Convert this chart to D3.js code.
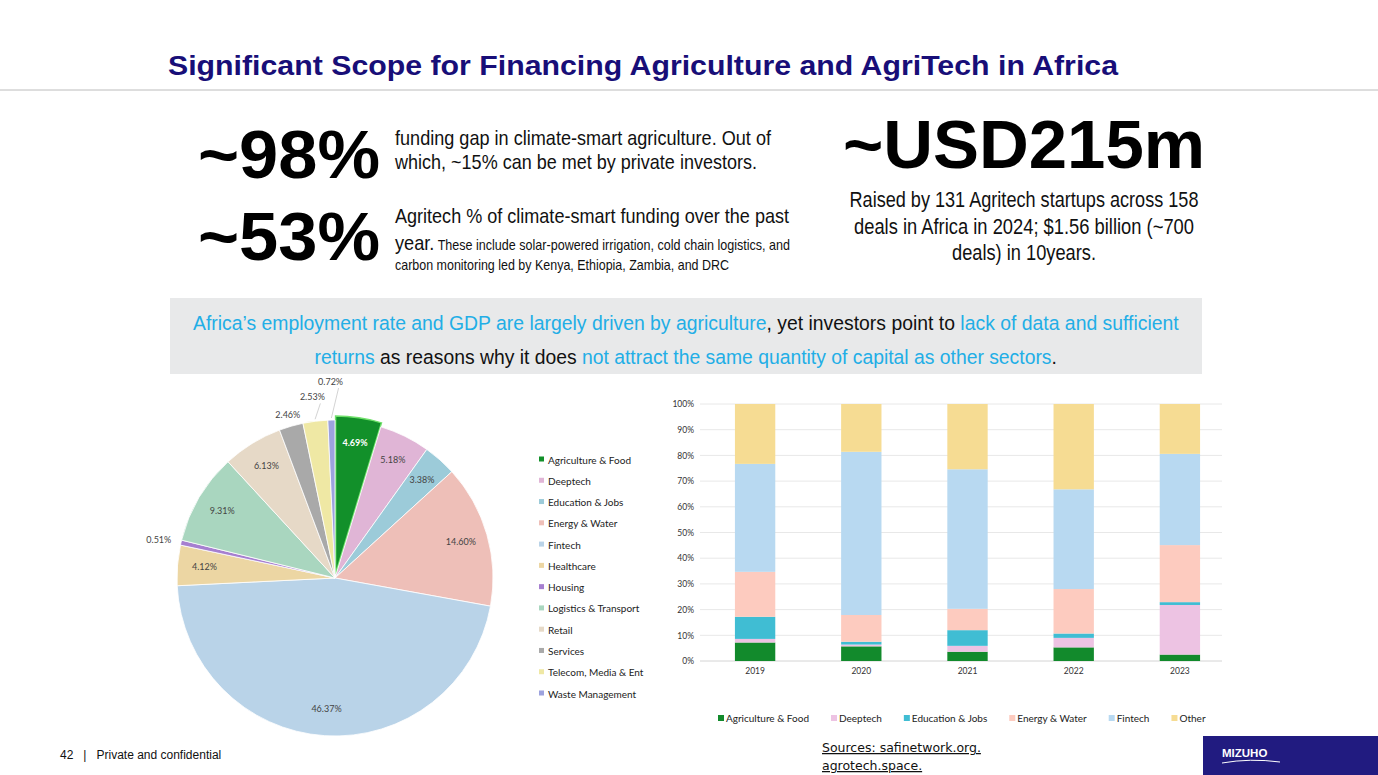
<!DOCTYPE html>
<html>
<head>
<meta charset="utf-8">
<script src="https://cdn.jsdelivr.net/npm/d3@7"></script>
<style>
  body { margin: 0; background: #fff; }
  svg { display: block; }
  .narrow { font-family: "Liberation Sans Narrow", "Liberation Sans", Arial, sans-serif; }
  .arial { font-family: "Liberation Sans", Arial, sans-serif; }
  .chart { font-family: Lato, "Open Sans", sans-serif; }
</style>
</head>
<body>
<script>
// pie: share of funding by sector
var pieCategories = ["Agriculture & Food", "Deeptech", "Education & Jobs", "Energy & Water", "Fintech",
    "Healthcare", "Housing", "Logistics & Transport", "Retail", "Services", "Telecom, Media & Ent", "Waste Management"];
var pieValues = [4.69, 5.18, 3.38, 14.60, 46.37, 4.12, 0.51, 9.31, 6.13, 2.46, 2.53, 0.72];
var pieColors = ["#12902a", "#e0b5d6", "#9ccbd9", "#eebfb8", "#b9d3e8", "#ecd6a3",
    "#a67fd0", "#a9d6bf", "#e6d9c7", "#a9a9a9", "#efe8a4", "#9ca2de"];

// stacked bars: share per year
var years = ["2019", "2020", "2021", "2022", "2023"];
var barSeries = ["Agriculture & Food", "Deeptech", "Education & Jobs", "Energy & Water", "Fintech", "Other"];
var agriFood  = [7.2, 5.7, 3.6, 5.3, 2.5];
var deeptech  = [1.4, 0.7, 2.3, 3.7, 19.3];
var education = [8.6, 1.1, 6.1, 1.7, 1.1];
var energy    = [17.5, 10.4, 8.3, 17.3, 22.2];
var fintech   = [42.0, 63.5, 54.3, 38.8, 35.5];
var other     = [23.3, 18.6, 25.4, 33.2, 19.4];
var barColors = ["#128a2c", "#edc3e3", "#40bdd3", "#fdcbbf", "#b8d9f1", "#f6dc93"];
var yTicks = [0, 10, 20, 30, 40, 50, 60, 70, 80, 90, 100];

var W = 1378, H = 775;
var svg = d3.select("body").append("svg").attr("width", W).attr("height", H);

// ---- header ----
svg.append("text").attr("class", "arial")
    .attr("x", 168).attr("y", 75)
    .attr("font-size", 28).attr("font-weight", "bold").attr("fill", "#180e78")
    .attr("textLength", 950).attr("lengthAdjust", "spacingAndGlyphs")
    .text("Significant Scope for Financing Agriculture and AgriTech in Africa");
svg.append("line").attr("x1", 0).attr("x2", W).attr("y1", 90).attr("y2", 90)
    .attr("stroke", "#bcbcbc").attr("stroke-width", 1);

// big numbers
function bigText(x, y, len, s, anchor) {
    svg.append("text").attr("class", "arial")
        .attr("x", x).attr("y", y).attr("font-size", 68).attr("font-weight", "bold")
        .attr("text-anchor", anchor || "start")
        .attr("textLength", len).attr("lengthAdjust", "spacingAndGlyphs")
        .text(s);
}
bigText(198, 178, 182, "~98%");
bigText(198, 260, 182, "~53%");
bigText(843, 168, 362, "~USD215m");

function line(x, y, len, s, size, anchor) {
    var t = svg.append("text").attr("class", "narrow")
        .attr("x", x).attr("y", y).attr("font-size", size || 21).attr("fill", "#111")
        .attr("text-anchor", anchor || "start");
    if (len) t.attr("textLength", len).attr("lengthAdjust", "spacingAndGlyphs");
    t.text(s);
    return t;
}
line(395, 145, 376, "funding gap in climate-smart agriculture. Out of");
line(395, 169, 362, "which, ~15% can be met by private investors.");
line(395, 223, 394, "Agritech % of climate-smart funding over the past");
var y4 = svg.append("text").attr("class", "narrow").attr("x", 395).attr("y", 250).attr("fill", "#111")
    .attr("textLength", 395).attr("lengthAdjust", "spacingAndGlyphs");
y4.append("tspan").attr("font-size", 21).text("year.");
y4.append("tspan").attr("font-size", 14.5).text(" These include solar-powered irrigation, cold chain logistics, and");
line(395, 270, 334, "carbon monitoring led by Kenya, Ethiopia, Zambia, and DRC", 14.5);

line(1024, 207, 349, "Raised by 131 Agritech startups across 158", 21.5, "middle");
line(1024, 234, 340, "deals in Africa in 2024; $1.56 billion (~700", 21.5, "middle");
line(1024, 260, 144, "deals) in 10years.", 21.5, "middle");

// callout box: mixed-colour lines, squeezed horizontally to the slide's width
svg.append("rect").attr("x", 170).attr("y", 298).attr("width", 1032).attr("height", 76).attr("fill", "#e8e9ea");
var blue = "#22aee6";
function mixedLine(y, width, parts) {
    var g = svg.append("g");
    var t = g.append("text").attr("class", "narrow").attr("x", 0).attr("y", 0).attr("font-size", 19.5);
    parts.forEach(function(p) { t.append("tspan").attr("fill", p[1] ? blue : "#111").text(p[0]); });
    var len = t.node().getComputedTextLength();
    var sx = width / len;
    g.attr("transform", "translate(" + (686 - width / 2) + "," + y + ") scale(" + sx + ",1)");
}
mixedLine(330, 986, [["Africa\u2019s employment rate and GDP are largely driven by agriculture", 1],
    [", yet investors point to ", 0], ["lack of data and sufficient", 1]]);
mixedLine(364, 743, [["returns", 1], [" as reasons why it does ", 0],
    ["not attract the same quantity of capital as other sectors", 1], [".", 0]]);

// ---- pie ----
var cx = 335, cy = 578, R = 158;
var pie = d3.pie().sort(null).value(function(d) { return d; });
var arcs = pie(pieValues);
var arc = d3.arc().innerRadius(0).outerRadius(R);
var labelArc = d3.arc().innerRadius(131).outerRadius(131);
var gPie = svg.append("g").attr("class", "chart").attr("transform", "translate(" + cx + "," + cy + ")");

gPie.selectAll("path.slice").data(arcs).enter().append("path")
    .attr("class", "slice")
    .attr("d", arc)
    .attr("transform", function(d, i) {
        if (i !== 0) return null;
        var a = (d.startAngle + d.endAngle) / 2;
        return "translate(" + (Math.sin(a) * 4) + "," + (-Math.cos(a) * 4) + ")";
    })
    .attr("fill", function(d, i) { return pieColors[i]; })
    .attr("stroke", function(d, i) { return i === 0 ? "#6fe06a" : "#fff"; })
    .attr("stroke-width", function(d, i) { return i === 0 ? 1.5 : 0.8; });

// small slices get outside labels (radius offsets are layout only)
var outside = { 6: { r: 168, anchor: "end" }, 9: { r: 170 }, 10: { r: 182, lead: true }, 11: { r: 196, lead: true } };
gPie.selectAll("text.plab").data(arcs).enter().append("text")
    .attr("class", "plab")
    .each(function(d, i) {
        var a = (d.startAngle + d.endAngle) / 2;
        var o = outside[i];
        var p;
        if (o) p = [Math.sin(a) * o.r, -Math.cos(a) * o.r];
        else p = labelArc.centroid(d);
        if (i === 0) { p[0] += Math.sin(a) * 6; p[1] -= Math.cos(a) * 6; }
        d3.select(this).attr("x", p[0]).attr("y", p[1] + 3)
            .attr("text-anchor", o && o.anchor ? o.anchor : "middle");
        if (o && o.lead) {
            gPie.append("line")
                .attr("x1", p[0] + 8).attr("y1", p[1] + 6)
                .attr("x2", Math.sin(a) * (R + 2)).attr("y2", -Math.cos(a) * (R + 2))
                .attr("stroke", "#c8c8c8").attr("stroke-width", 0.8);
        }
    })
    .attr("font-size", 9)
    .attr("fill", function(d, i) { return i === 0 ? "#fff" : "#444"; })
    .attr("font-weight", function(d, i) { return i === 0 ? "bold" : "normal"; })
    .text(function(d) { return d.value.toFixed(2) + "%"; });

// pie legend
var gLeg = svg.append("g").attr("class", "chart");
var legY = d3.scalePoint().domain(pieCategories).range([460, 694]);
pieCategories.forEach(function(c, i) {
    gLeg.append("rect").attr("x", 539).attr("y", legY(c) - 3.5).attr("width", 5).attr("height", 5)
        .attr("fill", pieColors[i]);
    gLeg.append("text").attr("x", 548).attr("y", legY(c) + 3.5).attr("font-size", 10)
        .attr("fill", "#222").text(c);
});

// ---- stacked bar chart ----
var rows = years.map(function(y, i) {
    return { year: y, "Agriculture & Food": agriFood[i], "Deeptech": deeptech[i], "Education & Jobs": education[i],
        "Energy & Water": energy[i], "Fintech": fintech[i], "Other": other[i] };
});
var stack = d3.stack().keys(barSeries)(rows);
var x = d3.scaleBand().domain(years).range([702, 1233]).paddingInner(0.62).paddingOuter(0.31);
var y = d3.scaleLinear().domain([0, 100]).range([661, 404]);
var gBar = svg.append("g").attr("class", "chart");

gBar.selectAll("line.grid").data(yTicks).enter().append("line")
    .attr("x1", 700).attr("x2", 1222)
    .attr("y1", function(d) { return y(d); }).attr("y2", function(d) { return y(d); })
    .attr("stroke", function(d) { return d === 0 ? "#d4d4d4" : "#e8e8e8"; }).attr("stroke-width", 1);

var yAxis = d3.axisLeft(y).tickValues(yTicks).tickSize(0).tickPadding(0)
    .tickFormat(function(d) { return d + "%"; });
gBar.append("g").attr("transform", "translate(694,0)").call(yAxis)
    .call(function(g) { g.select(".domain").remove(); })
    .selectAll("text").attr("font-size", 8.5).attr("fill", "#333").attr("font-family", "Lato, sans-serif");

var xAxis = d3.axisBottom(x).tickSize(0).tickPadding(0);
gBar.append("g").attr("transform", "translate(0,668)").call(xAxis)
    .call(function(g) { g.select(".domain").remove(); })
    .selectAll("text").attr("font-size", 8.5).attr("fill", "#333").attr("font-family", "Lato, sans-serif");

gBar.selectAll("g.layer").data(stack).enter().append("g")
    .attr("class", "layer")
    .attr("fill", function(d, i) { return barColors[i]; })
    .selectAll("rect").data(function(d) { return d; }).enter().append("rect")
    .attr("x", function(d) { return x(d.data.year); })
    .attr("width", x.bandwidth())
    .attr("y", function(d) { return y(d[1]); })
    .attr("height", function(d) { return y(d[0]) - y(d[1]); });

// bar legend, laid out left to right
var lx = 718;
barSeries.forEach(function(s, i) {
    gBar.append("rect").attr("x", lx).attr("y", 715).attr("width", 6).attr("height", 6).attr("fill", barColors[i]);
    var t = gBar.append("text").attr("x", lx + 8).attr("y", 722).attr("font-size", 10).attr("fill", "#222").text(s);
    lx += 8 + t.node().getComputedTextLength() + 22;
});

// ---- footer ----
svg.append("text").attr("class", "narrow").attr("x", 60).attr("y", 759).attr("font-size", 12)
    .attr("fill", "#111").attr("xml:space", "preserve").text("42   |   Private and confidential");
svg.append("text").attr("x", 822).attr("y", 752).attr("font-size", 12.5).attr("fill", "#111")
    .attr("font-family", "DejaVu Sans, sans-serif").attr("text-decoration", "underline")
    .text("Sources:  safinetwork.org.");
svg.append("text").attr("x", 822).attr("y", 770).attr("font-size", 12.5).attr("fill", "#111")
    .attr("font-family", "DejaVu Sans, sans-serif").attr("text-decoration", "underline")
    .text("agrotech.space.");

svg.append("rect").attr("x", 1203).attr("y", 736).attr("width", 175).attr("height", 39).attr("fill", "#211b80");
svg.append("text").attr("class", "arial").attr("x", 1222).attr("y", 757).attr("font-size", 11.5)
    .attr("font-weight", "bold").attr("fill", "#fff").text("MIZUHO");
svg.append("path").attr("d", "M1222,763 Q1250,758 1280,762").attr("stroke", "#fff")
    .attr("stroke-width", 1).attr("fill", "none");
</script>
</body>
</html>
